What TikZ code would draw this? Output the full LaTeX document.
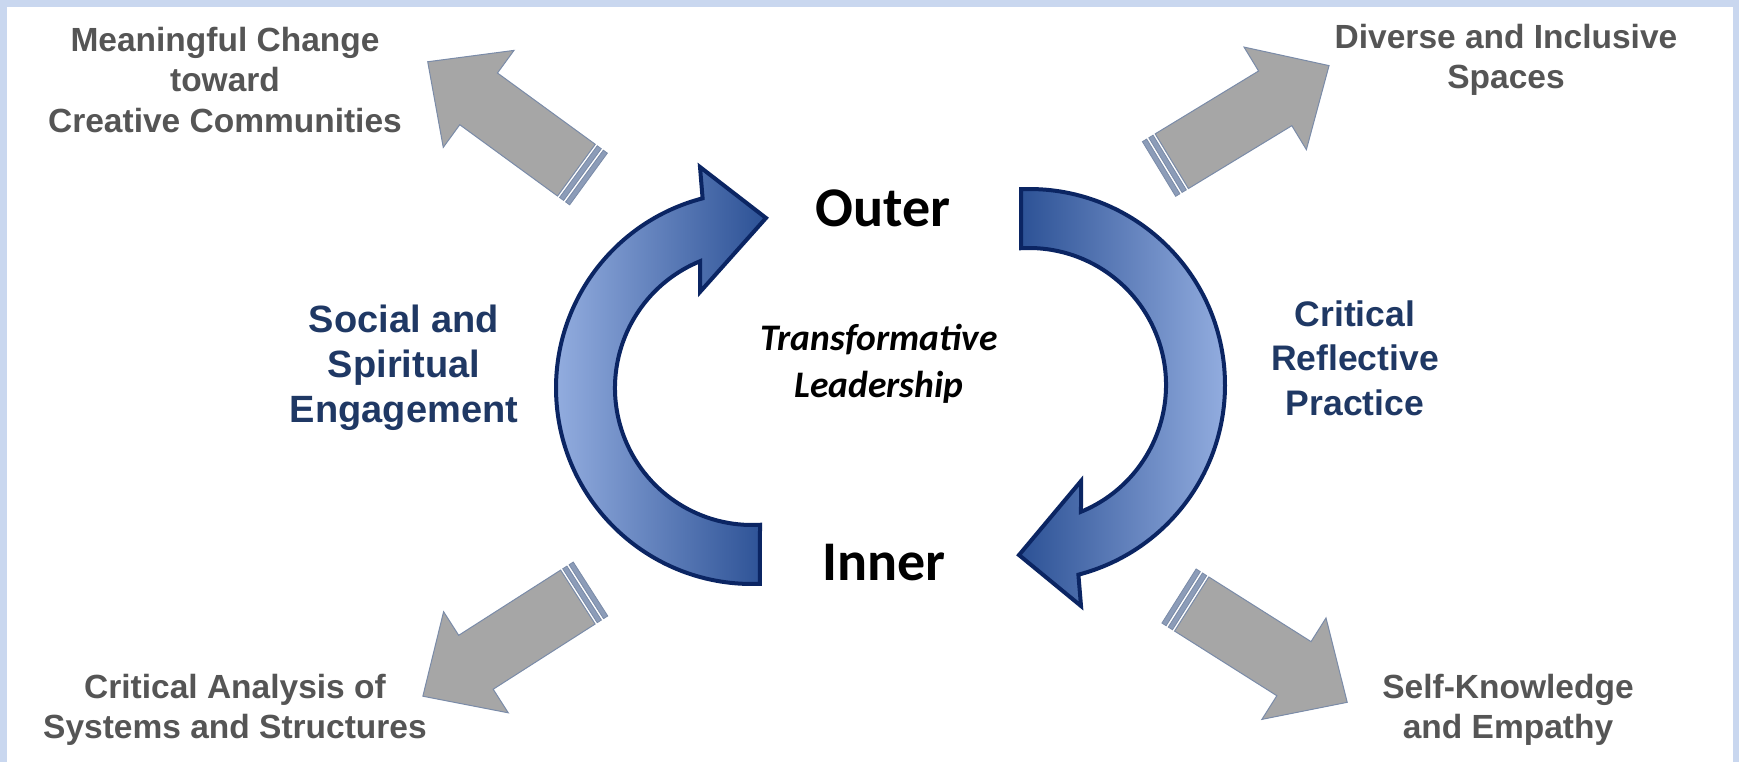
\documentclass[tikz,border=0pt]{standalone}
\usepackage{fontspec}
\setmainfont{Liberation Sans}
\newfontfamily\calfont{Carlito}
\usetikzlibrary{calc}
\definecolor{graytext}{HTML}{555555}
\definecolor{navytext}{HTML}{1F3864}
\definecolor{bandblue}{HTML}{C9D7EF}
\definecolor{bandpink}{HTML}{E6ADBE}
\definecolor{grayfill}{HTML}{A6A6A6}
\definecolor{grayedge}{HTML}{7A8BA8}
\definecolor{stripefill}{HTML}{8C9CB8}
\definecolor{bluelight}{HTML}{94AEE0}
\definecolor{bluemid}{HTML}{4C76C6}
\definecolor{bluedark}{HTML}{2C5195}
\definecolor{blueedge}{HTML}{0B2563}
\tikzset{
  graytxt/.style={font={\fontsize{33.5}{40.5}\selectfont\bfseries}, text=graytext, align=center, inner sep=0pt},
  navytxt/.style={font={\fontsize{38}{45}\selectfont\bfseries}, text=navytext, align=center, inner sep=0pt},
  navytxtr/.style={font={\fontsize{35.5}{44.5}\selectfont\bfseries}, text=navytext, align=center, inner sep=0pt},
  bigtxt/.style={font={\fontsize{56}{60}\selectfont\calfont\bfseries}, text=black, inner sep=0pt},
  centertxt/.style={font={\fontsize{37.5}{47}\selectfont\calfont\bfseries\itshape}, text=black, align=center, inner sep=0pt},
  bluearrow/.style={draw=blueedge, line width=4pt, line join=miter},
  grayarrow/.pic={
    \path[fill=stripefill, draw=grayedge, line width=0.8pt] (0,-32) rectangle (5,32);
    \path[fill=stripefill, draw=grayedge, line width=0.8pt] (7.5,-32) rectangle (12.5,32);
    \path[fill=grayfill, draw=grayedge, line width=1pt, line join=miter]
      (15,-32) -- (136,-32) -- (136,-60) -- (199,0) -- (136,60) -- (136,32) -- (15,32) -- cycle;
  }
}
\begin{document}
\begin{tikzpicture}[x=1pt,y=-1pt]
\useasboundingbox (0,0) rectangle (1739,762);
\fill[white] (0,0) rectangle (1739,762);
\fill[bandblue] (0,0) rectangle (7,762);
\fill[bandblue] (1733,0) rectangle (1739,762);
\shade[left color=bandblue, middle color=bandpink, right color=bandblue] (0,0) rectangle (1739,7);

% gray arrows
\pic[rotate=143.9] at (588.5,179) {grayarrow};
\pic[rotate=31.3] at (1159,169) {grayarrow};
\pic[rotate=-147.4] at (590.5,589) {grayarrow};
\pic[rotate=-32.3] at (1179,596) {grayarrow};

% blue circular arrows
\begin{scope}[shift={(752,388)}]
  \path[bluearrow, left color=bluelight, middle color=bluemid, right color=bluedark]
    (87.7:196) arc[start angle=87.7, end angle=255.4, radius=196]
    -- (-52,-221) -- (14,-170) -- (-52,-96)
    -- (247.7:137) arc[start angle=247.7, end angle=86.65, radius=137] -- cycle;
\end{scope}
\begin{scope}[shift={(1029,385)}, rotate=180]
  \path[bluearrow, left color=bluedark, middle color=bluemid, right color=bluelight]
    (87.7:196) arc[start angle=87.7, end angle=255.4, radius=196]
    -- (-52,-221) -- (10,-170) -- (-52,-96)
    -- (247.7:137) arc[start angle=247.7, end angle=86.65, radius=137] -- cycle;
\end{scope}

% texts
\node[graytxt] (mc) at (225,80) {Meaningful Change\\toward\\Creative Communities};
\node[graytxt] (dis) at (1506,60) {Diverse and Inclusive\\Spaces};
\node[graytxt] (cas) at (235,710) {Critical Analysis of\\Systems and Structures};
\node[graytxt] (ske) at (1508,710) {Self-Knowledge\\and Empathy};
\node[navytxt] (sse) at (404,368) {Social and\\Spiritual\\Engagement};
\node[navytxtr] (crp) at (1355,358) {Critical\\Reflective\\Practice};
\node[bigtxt] (outer) at (883,208) {Outer};
\node[bigtxt] (inner) at (884,563) {Inner};
\node[centertxt] (tl) at (879,364) {Transformative\\Leadership};
\end{tikzpicture}
\end{document}
